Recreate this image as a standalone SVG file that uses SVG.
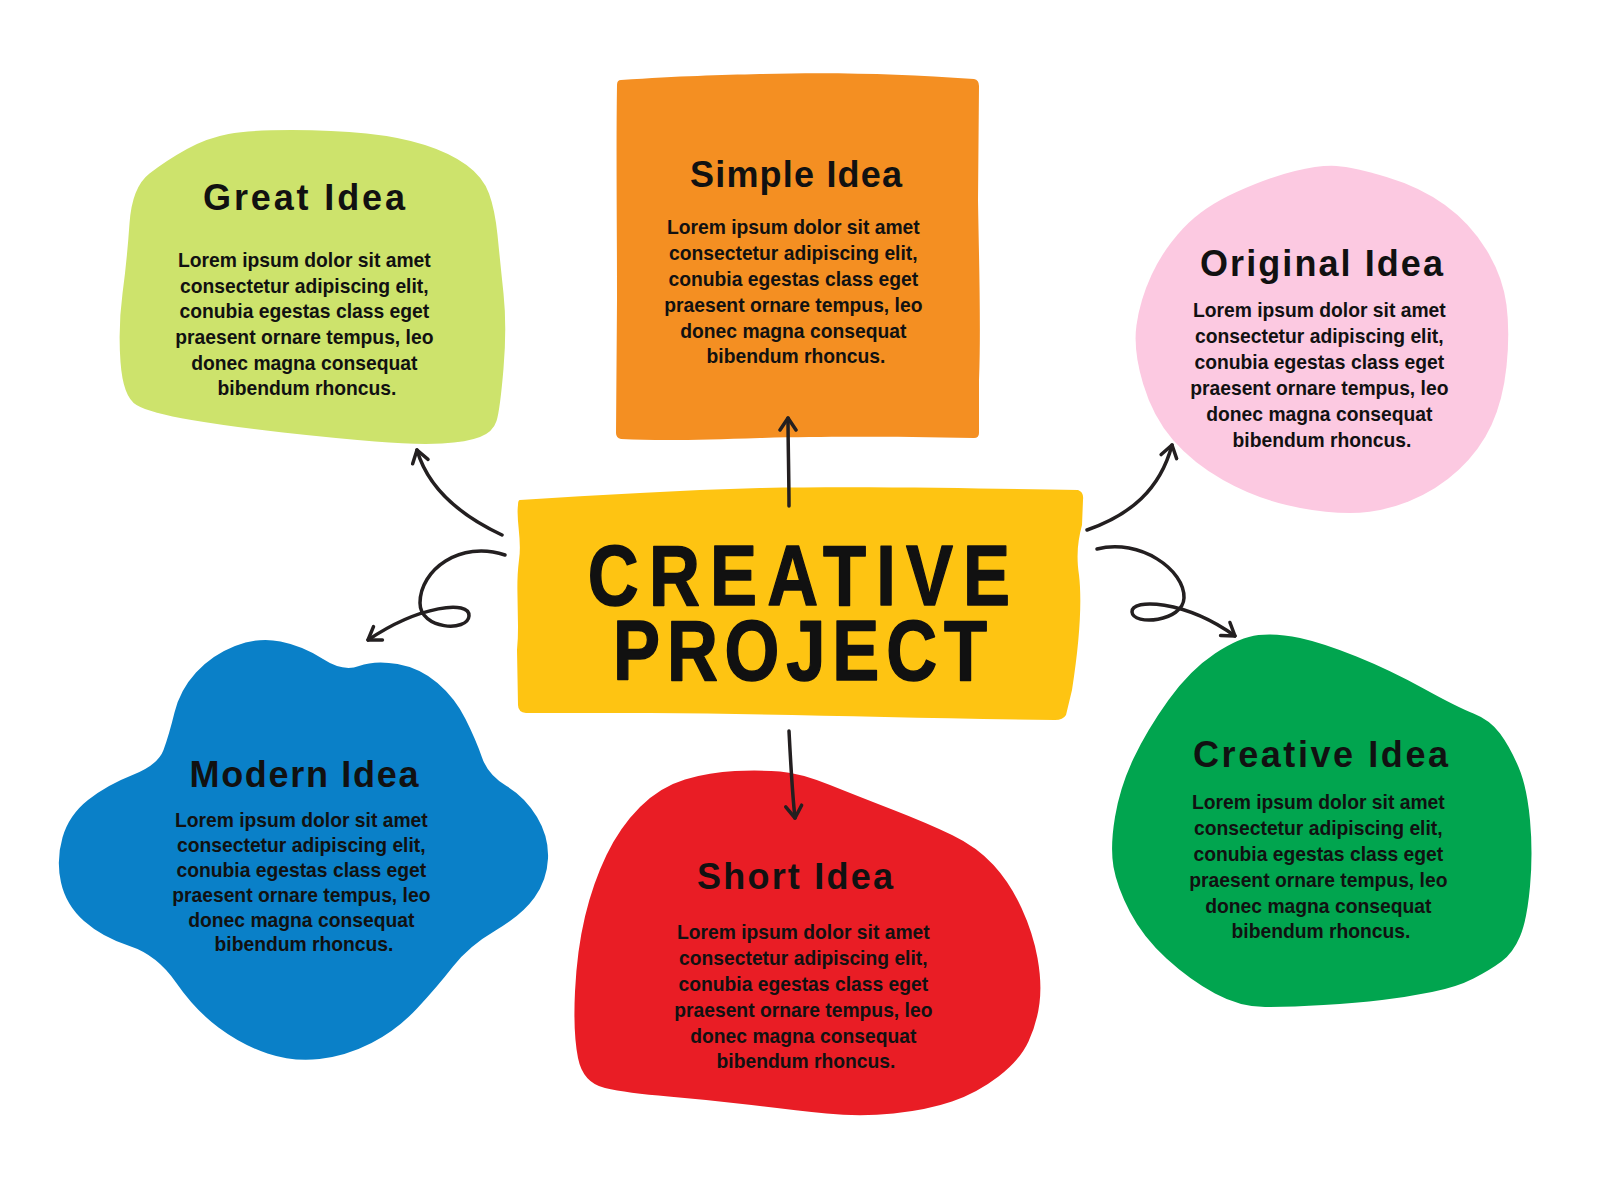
<svg xmlns="http://www.w3.org/2000/svg" width="1600" height="1200" viewBox="0 0 1600 1200">
  <style>
    .head { font-family: "Liberation Sans", Arial, sans-serif; font-weight: bold; font-size: 36px; fill: #111; text-anchor: middle; }
    .body { font-family: "Liberation Sans", Arial, sans-serif; font-weight: bold; font-size: 19.3px; fill: #111; text-anchor: middle; }
    .main { font-family: "Liberation Sans", Arial, sans-serif; font-weight: bold; font-size: 86px; fill: #111; text-anchor: middle; stroke: #111; stroke-width: 1.5; stroke-linejoin: round; }
    .conn { fill: none; stroke: #231f20; stroke-width: 3.5; stroke-linecap: round; }
  </style>
  <defs>
    <marker id="arr" viewBox="-15 -10 17 20" markerWidth="17" markerHeight="20" refX="0" refY="0" orient="auto" markerUnits="userSpaceOnUse">
      <path d="M-12,-8 L0,0 L-12,8" fill="none" stroke="#231f20" stroke-width="3.5" stroke-linecap="round" stroke-linejoin="round"/>
    </marker>
  </defs>
  <rect width="1600" height="1200" fill="#ffffff"/>

  <g id="great-idea">
    <path fill="#CDE36C" d="M149.5,173.5 Q167,160 187,149 Q207,138 228.5,134 Q250,130 291.5,130 Q333,130 366.5,133.5 Q400,137 425,145 Q450,153 466.5,165 Q483,177 489,193.5 Q495,210 497.5,235 Q500,260 503.5,293.5 Q507,327 503.5,368.5 Q500,410 496.5,421 Q493,432 480,437 Q467,442 442,443.5 Q417,445 375,441.5 Q333,438 283,432.5 Q233,427 191.5,420 Q150,413 136.5,405 Q123,397 120.5,362 Q118,327 122.5,293.5 Q127,260 129.5,223.5 Q132,187 149.5,173.5 Z"/>
    <text class="head" x="304" y="210" textLength="202" lengthAdjust="spacing">Great Idea</text>
    <text class="body">
      <tspan x="307" y="267">Lorem ipsum dolor sit amet</tspan>
      <tspan x="307" y="293">consectetur adipiscing elit,</tspan>
      <tspan x="307" y="318">conubia egestas class eget</tspan>
      <tspan x="307" y="344">praesent ornare tempus, leo</tspan>
      <tspan x="307" y="370">donec magna consequat</tspan>
      <tspan x="307" y="395">bibendum rhoncus.</tspan>
    </text>
  </g>

  <g id="simple-idea">
    <path fill="#F48F22" d="M621,80 C680,76 720,75 760,74 C840,72 900,74 974,79 Q979,80 979,86 L978,200 C979,260 981,330 979,380 L979,433 Q979,438 974,438 C900,437 840,436 760,438 C700,440 660,441 621,439 Q616,438 616,433 L617,300 C617,220 616,150 617,85 Q617,80 621,80 Z"/>
    <text class="head" x="796" y="187" textLength="212" lengthAdjust="spacing">Simple Idea</text>
    <text class="body">
      <tspan x="796" y="234">Lorem ipsum dolor sit amet</tspan>
      <tspan x="796" y="260">consectetur adipiscing elit,</tspan>
      <tspan x="796" y="286">conubia egestas class eget</tspan>
      <tspan x="796" y="312">praesent ornare tempus, leo</tspan>
      <tspan x="796" y="338">donec magna consequat</tspan>
      <tspan x="796" y="363">bibendum rhoncus.</tspan>
    </text>
  </g>

  <g id="original-idea">
    <path fill="#FCC9E1" d="M1336.5,166 Q1353,167 1386.5,177 Q1420,187 1445,205 Q1470,223 1486.5,250 Q1503,277 1506.5,305 Q1510,333 1506.5,366.5 Q1503,400 1491.5,425 Q1480,450 1458.5,470 Q1437,490 1408.5,501.5 Q1380,513 1350,513 Q1320,513 1286.5,505 Q1253,497 1223,480 Q1193,463 1173,440 Q1153,417 1143,383.5 Q1133,350 1136.5,325 Q1140,300 1151.5,275 Q1163,250 1183,228.5 Q1203,207 1236.5,192 Q1270,177 1295,171 Q1320,165 1336.5,166 Z"/>
    <text class="head" x="1321.5" y="276" textLength="243" lengthAdjust="spacing">Original Idea</text>
    <text class="body">
      <tspan x="1322" y="317">Lorem ipsum dolor sit amet</tspan>
      <tspan x="1322" y="343">consectetur adipiscing elit,</tspan>
      <tspan x="1322" y="369">conubia egestas class eget</tspan>
      <tspan x="1322" y="395">praesent ornare tempus, leo</tspan>
      <tspan x="1322" y="421">donec magna consequat</tspan>
      <tspan x="1322" y="447">bibendum rhoncus.</tspan>
    </text>
  </g>

  <g id="creative-project">
    <path fill="#FEC412" d="M520,500 C600,495 680,490 760,488 C880,486 1000,489 1078,490 Q1084,492 1083,500 L1082,525 C1078,540 1076,555 1079,575 C1082,600 1080,640 1072,690 L1066,715 Q1063,720 1055,720 C900,718 780,714 650,713 L526,713 Q518,712 518,705 L517,650 C520,620 515,590 519,560 C522,540 516,520 518,505 Q518,500 520,500 Z"/>
    <text class="main" transform="translate(799,605) scale(0.82,1)" x="0" y="0" textLength="515" lengthAdjust="spacing">CREATIVE</text>
    <text class="main" transform="translate(800,680) scale(0.82,1)" x="0" y="0" textLength="456" lengthAdjust="spacing">PROJECT</text>
  </g>

  <g id="modern-idea">
    <path fill="#0A80C8" d="M174.5,712.5 Q180,690 196,672.5 Q212,655 235,646 Q258,637 280.5,641.5 Q303,646 323,659 Q343,672 359,666 Q375,660 397.5,664 Q420,668 437.5,683 Q455,698 465.5,719 Q476,740 482,757.5 Q488,775 506.5,786 Q525,797 537,817 Q549,837 548,858.5 Q547,880 534.5,897.5 Q522,915 495.5,930.5 Q469,946 453,966.5 Q437,987 417,1008.5 Q397,1030 371.5,1043 Q346,1056 319.5,1059 Q293,1062 267.5,1053.5 Q242,1045 218.5,1027.5 Q195,1010 176,982.5 Q157,955 129.5,946 Q102,937 84,921 Q66,905 61,882.5 Q56,860 62.5,837.5 Q69,815 88,800 Q107,785 132.5,775 Q158,765 163.5,750 Q169,735 174.5,712.5 Z"/>
    <text class="head" x="304" y="787" textLength="229" lengthAdjust="spacing">Modern Idea</text>
    <text class="body">
      <tspan x="304" y="827">Lorem ipsum dolor sit amet</tspan>
      <tspan x="304" y="852">consectetur adipiscing elit,</tspan>
      <tspan x="304" y="877">conubia egestas class eget</tspan>
      <tspan x="304" y="902">praesent ornare tempus, leo</tspan>
      <tspan x="304" y="927">donec magna consequat</tspan>
      <tspan x="304" y="951">bibendum rhoncus.</tspan>
    </text>
  </g>

  <g id="short-idea">
    <path fill="#E91D25" d="M640,807 Q660,787 685,779.5 Q710,772 735,771 Q760,770 780,771.5 Q800,773 830,785 Q860,797 893.5,810 Q927,823 952,835 Q977,847 993.5,865 Q1010,883 1021.5,908 Q1033,933 1037.5,958 Q1042,983 1039.5,1003 Q1037,1023 1028.5,1041.5 Q1020,1060 998.5,1076.5 Q977,1093 952,1101.5 Q927,1110 893.5,1113.5 Q860,1117 826.5,1113.5 Q793,1110 751.5,1105 Q710,1100 668.5,1096.5 Q627,1093 605,1088 Q583,1083 578,1058 Q573,1033 575,991.5 Q577,950 585,916.5 Q593,883 606.5,855 Q620,827 640,807 Z"/>
    <text class="head" x="795" y="889" textLength="196" lengthAdjust="spacing">Short Idea</text>
    <text class="body">
      <tspan x="806" y="939">Lorem ipsum dolor sit amet</tspan>
      <tspan x="806" y="965">consectetur adipiscing elit,</tspan>
      <tspan x="806" y="991">conubia egestas class eget</tspan>
      <tspan x="806" y="1017">praesent ornare tempus, leo</tspan>
      <tspan x="806" y="1043">donec magna consequat</tspan>
      <tspan x="806" y="1068">bibendum rhoncus.</tspan>
    </text>
  </g>

  <g id="creative-idea">
    <path fill="#01A54F" d="M1258.5,635 Q1277,633 1300,638 Q1323,643 1356.5,656.5 Q1390,670 1423.5,688.5 Q1457,707 1473.5,713.5 Q1490,720 1500,733.5 Q1510,747 1518.5,767 Q1527,787 1530,820 Q1533,853 1530,886.5 Q1527,920 1520,936.5 Q1513,953 1501.5,961.5 Q1490,970 1473.5,978.5 Q1457,987 1432,992 Q1407,997 1382,1000 Q1357,1003 1323.5,1005 Q1290,1007 1265,1007 Q1240,1007 1215,993.5 Q1190,980 1166.5,958.5 Q1143,937 1130,912 Q1117,887 1113.5,867 Q1110,847 1115,817 Q1120,787 1133.5,758.5 Q1147,730 1168.5,700 Q1190,670 1215,653.5 Q1240,637 1258.5,635 Z"/>
    <text class="head" x="1320.5" y="767" textLength="255" lengthAdjust="spacing">Creative Idea</text>
    <text class="body">
      <tspan x="1321" y="809">Lorem ipsum dolor sit amet</tspan>
      <tspan x="1321" y="835">consectetur adipiscing elit,</tspan>
      <tspan x="1321" y="861">conubia egestas class eget</tspan>
      <tspan x="1321" y="887">praesent ornare tempus, leo</tspan>
      <tspan x="1321" y="913">donec magna consequat</tspan>
      <tspan x="1321" y="938">bibendum rhoncus.</tspan>
    </text>
  </g>

  <g id="connectors">
    <path class="conn" marker-end="url(#arr)" d="M502,535 C470,520 430,495 417,450"/>
    <path class="conn" marker-end="url(#arr)" d="M789,506 C789,480 788,440 788,418"/>
    <path class="conn" marker-end="url(#arr)" d="M1087,530 C1130,515 1160,490 1172,445"/>
    <path class="conn" marker-end="url(#arr)" d="M789,731 C791,770 793,800 795,818"/>
    <path class="conn" marker-end="url(#arr)" d="M505,555 C460,540 420,570 420,603 C420,630 468,632 469,616 C470,600 420,605 368,640"/>
    <path class="conn" marker-end="url(#arr)" d="M1097,549 C1140,538 1185,570 1184,598 C1183,622 1133,626 1132,612 C1131,598 1185,600 1235,636"/>
  </g>
</svg>
